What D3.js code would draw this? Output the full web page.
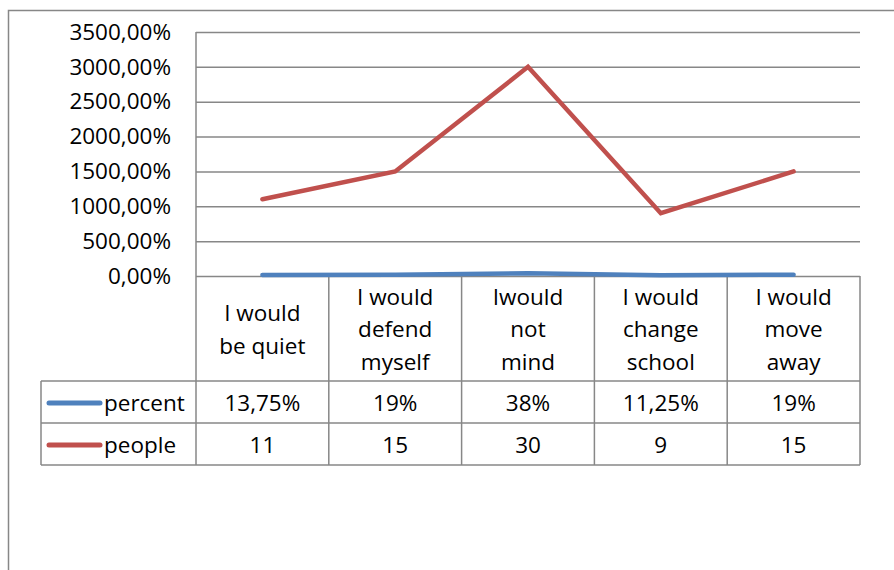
<!DOCTYPE html>
<html>
<head>
<meta charset="utf-8">
<script src="https://cdn.jsdelivr.net/npm/d3@7"></script>
<style>
  html, body { margin: 0; padding: 0; background: #fff; }
  svg { display: block; font-family: "Open Sans", "Liberation Sans", sans-serif; }
</style>
</head>
<body>
<svg id="chart" width="894" height="570"></svg>
<script>
// Survey answers: how respondents would react
const categories = [
  ["I would", "be quiet"],
  ["I would", "defend", "myself"],
  ["Iwould", "not", "mind"],
  ["I would", "change", "school"],
  ["I would", "move", "away"]
];
const seriesNames = ["percent", "people"];
const percentValues = [0.1375, 0.19, 0.38, 0.1125, 0.19];
const peopleValues = [11, 15, 30, 9, 15];
const yTicks = [0, 5, 10, 15, 20, 25, 30, 35];

const colors = { percent: "#4F81BD", people: "#C0504D" };
const gridColor = "#878787";
const fontSize = 22.5;

const svg = d3.select("#chart");

// Layout
const plot = { left: 196, right: 860, top: 32, bottom: 276 };
const table = { left: 41, headerBottom: 381, rowH: 42 };

const locale = d3.formatLocale({ decimal: ",", thousands: "", grouping: [3], currency: ["", ""], percent: "%" });
const tickFmt = locale.format(".2%");
const cellFmt = locale.format(".2~%");

const keys = categories.map((c, i) => i);
const x = d3.scaleBand().domain(keys).range([plot.left, plot.right]).padding(0);
const y = d3.scaleLinear().domain([0, 35]).range([plot.bottom, plot.top]);
const cx = i => x(i) + x.bandwidth() / 2;

// Outer chart frame (top and left edges)
svg.append("path")
  .attr("d", "M8.5,570 V10.5 H894")
  .attr("fill", "none").attr("stroke", gridColor).attr("stroke-width", 1.5);

// Gridlines and y-axis labels
const yAxis = d3.axisLeft(y).tickValues(yTicks).tickFormat(tickFmt)
  .tickSize(-(plot.right - plot.left)).tickPadding(25);
const gy = svg.append("g").attr("transform", `translate(${plot.left},0)`).call(yAxis);
gy.select(".domain").remove();
gy.selectAll(".tick line").attr("stroke", gridColor).attr("stroke-width", 1.5);
gy.selectAll(".tick text")
  .attr("font-size", fontSize).attr("fill", "#000")
  .attr("font-family", "'Open Sans', sans-serif");

// Data table grid
const tableBottom = table.headerBottom + table.rowH * 2;
const grid = svg.append("g").attr("stroke", gridColor).attr("stroke-width", 1.5).attr("fill", "none");
// left axis line of plot continuing through table
grid.append("line").attr("x1", plot.left).attr("x2", plot.left).attr("y1", plot.top).attr("y2", tableBottom);
// category dividers
keys.forEach(i => {
  const xr = x(i) + x.bandwidth();
  grid.append("line").attr("x1", xr).attr("x2", xr).attr("y1", plot.bottom).attr("y2", tableBottom);
});
// horizontal rules
[table.headerBottom, table.headerBottom + table.rowH, tableBottom].forEach(yy => {
  grid.append("line").attr("x1", table.left).attr("x2", plot.right).attr("y1", yy).attr("y2", yy);
});
grid.append("line").attr("x1", table.left).attr("x2", table.left).attr("y1", table.headerBottom).attr("y2", tableBottom);

// Category headers
const headG = svg.append("g").attr("font-size", fontSize).attr("text-anchor", "middle").attr("fill", "#000");
categories.forEach((lines, i) => {
  const lh = 32.5;
  const mid = (plot.bottom + table.headerBottom) / 2 + 1;
  const start = mid - (lines.length - 1) * lh / 2;
  const t = headG.append("text").attr("x", cx(i));
  lines.forEach((ln, j) => {
    t.append("tspan").attr("x", cx(i)).attr("y", start + j * lh).attr("dy", "0.35em").text(ln);
  });
});

// Table rows: legend key + values
const rows = [
  { name: seriesNames[0], labels: percentValues.map(cellFmt) },
  { name: seriesNames[1], labels: peopleValues.map(String) }
];
rows.forEach((r, k) => {
  const ym = table.headerBottom + table.rowH * k + table.rowH / 2 + 1;
  svg.append("line")
    .attr("x1", 49).attr("x2", 100).attr("y1", ym).attr("y2", ym)
    .attr("stroke", colors[r.name]).attr("stroke-width", 5).attr("stroke-linecap", "round");
  svg.append("text").attr("x", 104).attr("y", ym).attr("dy", "0.35em")
    .attr("font-size", fontSize).text(r.name);
  r.labels.forEach((lab, i) => {
    svg.append("text").attr("x", cx(i)).attr("y", ym).attr("dy", "0.35em")
      .attr("font-size", fontSize).attr("text-anchor", "middle").text(lab);
  });
});

// Series lines
const line = d3.line().x((d, i) => cx(i)).y(d => y(d));
svg.append("path").datum(percentValues).attr("d", line)
  .attr("fill", "none").attr("stroke", colors.percent).attr("stroke-width", 4.5)
  .attr("stroke-linecap", "round").attr("stroke-linejoin", "round");
svg.append("path").datum(peopleValues).attr("d", line)
  .attr("fill", "none").attr("stroke", colors.people).attr("stroke-width", 4.5)
  .attr("stroke-linecap", "round").attr("stroke-linejoin", "miter");
</script>
</body>
</html>
